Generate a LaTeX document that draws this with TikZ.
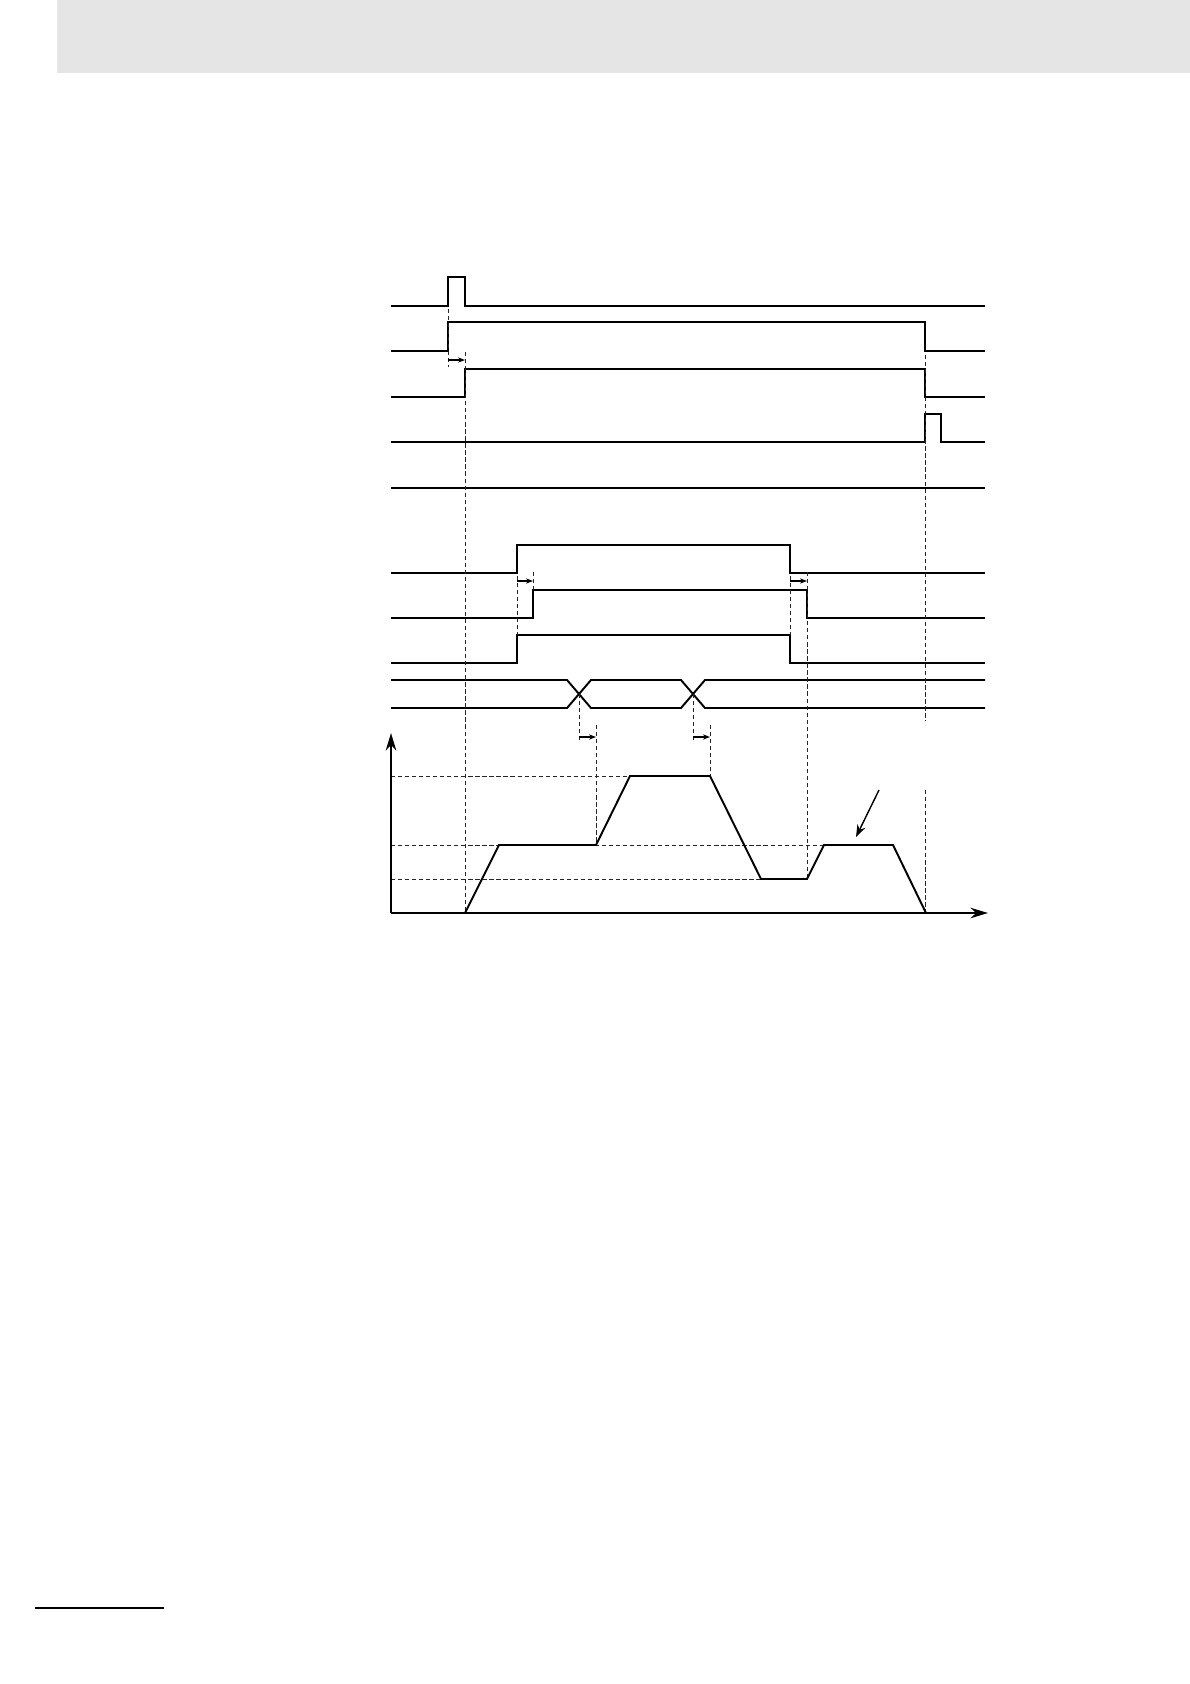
\documentclass[tikz,border=0pt]{standalone}
\usepackage{tikz}
\usetikzlibrary{arrows.meta}
\definecolor{headgray}{RGB}{229,229,229}
\tikzstyle{signal} = [line width=1.1pt, line join=miter]
\tikzstyle{guide} = [line width=0.5pt, dash pattern=on 2.4pt off 1.6pt, black!85]
\tikzstyle{delay} = [line width=0.6pt, -{Stealth[length=4pt,width=3pt]}]
\tikzstyle{axis} = [line width=1.1pt, -{Stealth[length=10pt,width=6pt]}]

\begin{document}
\begin{tikzpicture}[x=0.02cm, y=-0.02cm]
        \useasboundingbox (0,0) rectangle (1190,1684);
        \fill[headgray] (57,0) rectangle (1190,73);
        \draw[line width=1.4pt] (35,1608) -- (164,1608);

        % digital signals
        \draw[signal] (391,306) -- (448,306) -- (448,277) -- (465,277) -- (465,306) -- (985,306);
        \draw[signal] (391,351) -- (448,351) -- (448,322) -- (925,322) -- (925,351) -- (985,351);
        \draw[signal] (391,397) -- (465,397) -- (465,369) -- (925,369) -- (925,397) -- (985,397);
        \draw[signal] (391,442) -- (925,442) -- (925,414) -- (941,414) -- (941,442) -- (985,442);
        \draw[signal] (391,488) -- (985,488);
        \draw[signal] (391,573) -- (517,573) -- (517,545) -- (790,545) -- (790,573) -- (985,573);
        \draw[signal] (391,618) -- (533,618) -- (533,590) -- (807,590) -- (807,618) -- (985,618);
        \draw[signal] (391,663) -- (517,663) -- (517,635) -- (790,635) -- (790,663) -- (985,663);
        \draw[signal] (391,680) -- (567,680) -- (591,708) -- (681,708) -- (705,680) -- (985,680);
        \draw[signal] (391,708) -- (567,708) -- (591,680) -- (681,680) -- (705,708) -- (985,708);

        % timing guides
        \draw[guide] (448,309) -- (448,367);
        \draw[guide] (465,352) -- (465,913);
        \draw[guide] (925,355) -- (925,721);
        \draw[guide] (925,790) -- (925,913);
        \draw[guide] (517,576) -- (517,635);
        \draw[guide] (533,572) -- (533,590);
        \draw[guide] (790,576) -- (790,635);
        \draw[guide] (807,572) -- (807,879);
        \draw[guide] (579,694) -- (579,742);
        \draw[guide] (596,725) -- (596,845);
        \draw[guide] (693,694) -- (693,742);
        \draw[guide] (710,725) -- (710,776);
        \draw[guide] (391,776) -- (630,776);
        \draw[guide] (391,845) -- (824,845);
        \draw[guide] (391,879) -- (761,879);

        \draw[delay] (448,360) -- (465,360);
        \draw[delay] (517,581) -- (533,581);
        \draw[delay] (790,581) -- (807,581);
        \draw[delay] (579,737) -- (596,737);
        \draw[delay] (693,737) -- (710,737);

        % speed profile
        \draw[axis] (391,913) -- (391,733);
        \draw[axis] (391,913) -- (988,913);
        \draw[signal] (465,913) -- (499,845) -- (596,845) -- (630,776) -- (710,776) -- (761,879) -- (807,879) -- (824,845) -- (893,845) -- (926,913);
        \draw[delay, line width=0.8pt, -{Stealth[length=7pt,width=5pt]}] (879,790) -- (856,837);
    \end{tikzpicture}
\end{document}
